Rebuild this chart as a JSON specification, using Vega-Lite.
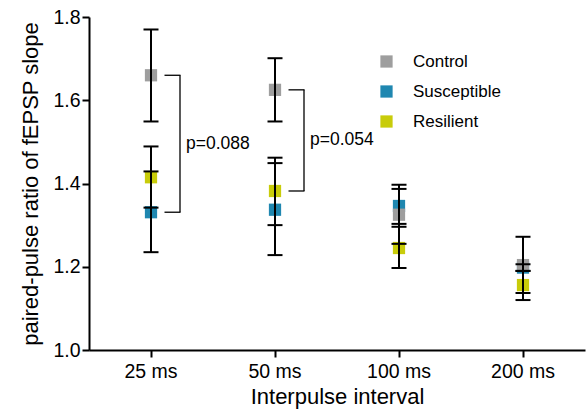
{
  "$schema": "https://vega.github.io/schema/vega-lite/v6.json",
  "autosize": "none",
  "width": 496,
  "height": 333,
  "padding": {"left": 89, "top": 17, "right": 1, "bottom": 62},
  "background": "white",
  "config": {
    "font": "Liberation Sans",
    "view": {"stroke": null},
    "axis": {
      "domainColor": "black",
      "domainWidth": 2,
      "tickColor": "black",
      "tickWidth": 2,
      "tickSize": 7,
      "labelColor": "black",
      "titleColor": "black",
      "labelFont": "Liberation Sans",
      "titleFont": "Liberation Sans",
      "labelFontSize": 19.5,
      "titleFontSize": 22,
      "titleFontWeight": "normal",
      "grid": false
    }
  },
  "datasets": {
    "ppr": [
      {"interval": "25 ms", "group": "Susceptible", "mean": 1.331, "lo": 1.235, "hi": 1.429},
      {"interval": "50 ms", "group": "Susceptible", "mean": 1.337, "lo": 1.228, "hi": 1.449},
      {"interval": "100 ms", "group": "Susceptible", "mean": 1.346, "lo": 1.303, "hi": 1.387},
      {"interval": "200 ms", "group": "Susceptible", "mean": 1.198, "lo": 1.19, "hi": 1.206},
      {"interval": "25 ms", "group": "Control", "mean": 1.66, "lo": 1.549, "hi": 1.77},
      {"interval": "50 ms", "group": "Control", "mean": 1.625, "lo": 1.549, "hi": 1.701},
      {"interval": "100 ms", "group": "Control", "mean": 1.325, "lo": 1.255, "hi": 1.397},
      {"interval": "200 ms", "group": "Control", "mean": 1.204, "lo": 1.137, "hi": 1.272},
      {"interval": "25 ms", "group": "Resilient", "mean": 1.415, "lo": 1.342, "hi": 1.489},
      {"interval": "50 ms", "group": "Resilient", "mean": 1.382, "lo": 1.3, "hi": 1.462},
      {"interval": "100 ms", "group": "Resilient", "mean": 1.245, "lo": 1.197, "hi": 1.296},
      {"interval": "200 ms", "group": "Resilient", "mean": 1.156, "lo": 1.12, "hi": 1.19}
    ],
    "brackets": [
      {"interval": "25 ms", "top": 1.66, "bottom": 1.331, "label": "p=0.088"},
      {"interval": "50 ms", "top": 1.625, "bottom": 1.382, "label": "p=0.054"}
    ]
  },
  "encoding": {
    "x": {
      "field": "interval",
      "type": "nominal",
      "sort": ["25 ms", "50 ms", "100 ms", "200 ms"],
      "scale": {"domain": ["25 ms", "50 ms", "100 ms", "200 ms"], "paddingInner": 0, "paddingOuter": 0},
      "axis": {"title": "Interpulse interval", "labelAngle": 0, "labelPadding": 5, "titlePadding": 6}
    }
  },
  "layer": [
    {
      "data": {"name": "ppr"},
      "mark": {"type": "point", "shape": "square", "filled": true, "opacity": 1, "size": 150},
      "encoding": {
        "y": {
          "field": "mean",
          "type": "quantitative",
          "scale": {"domain": [1.0, 1.8], "nice": false, "zero": false},
          "axis": {"title": "paired-pulse ratio of fEPSP slope", "values": [1.0, 1.2, 1.4, 1.6, 1.8], "format": ".1f", "labelPadding": 2, "titlePadding": 10}
        },
        "color": {
          "field": "group",
          "type": "nominal",
          "scale": {"domain": ["Control", "Susceptible", "Resilient"], "range": ["#9e9e9e", "#1f87b0", "#c8cc0a"]},
          "legend": {
            "title": null,
            "orient": "none",
            "legendX": 289,
            "legendY": 36,
            "symbolType": "square",
            "symbolSize": 150,
            "symbolStrokeWidth": 0,
            "labelFontSize": 17,
            "labelFont": "Liberation Sans",
            "labelColor": "black",
            "labelOffset": 18,
            "rowPadding": 12
          }
        }
      }
    },
    {
      "data": {"name": "ppr"},
      "mark": {"type": "rule", "color": "black", "strokeWidth": 2},
      "encoding": {
        "y": {"field": "lo", "type": "quantitative"},
        "y2": {"field": "hi"}
      }
    },
    {
      "data": {"name": "ppr"},
      "mark": {"type": "tick", "color": "black", "thickness": 2, "size": 15, "opacity": 1},
      "encoding": {"y": {"field": "lo", "type": "quantitative"}}
    },
    {
      "data": {"name": "ppr"},
      "mark": {"type": "tick", "color": "black", "thickness": 2, "size": 15, "opacity": 1},
      "encoding": {"y": {"field": "hi", "type": "quantitative"}}
    },
    {
      "data": {"name": "brackets"},
      "mark": {"type": "rule", "color": "black", "strokeWidth": 1.3, "xOffset": 29},
      "encoding": {
        "y": {"field": "top", "type": "quantitative"},
        "y2": {"field": "bottom"}
      }
    },
    {
      "data": {"name": "brackets"},
      "mark": {"type": "tick", "color": "black", "thickness": 1.3, "size": 16, "xOffset": 21.5, "opacity": 1},
      "encoding": {"y": {"field": "top", "type": "quantitative"}}
    },
    {
      "data": {"name": "brackets"},
      "mark": {"type": "tick", "color": "black", "thickness": 1.3, "size": 16, "xOffset": 21.5, "opacity": 1},
      "encoding": {"y": {"field": "bottom", "type": "quantitative"}}
    },
    {
      "data": {"name": "brackets"},
      "transform": [{"calculate": "(datum.top + datum.bottom) / 2", "as": "mid"}],
      "mark": {"type": "text", "align": "left", "baseline": "middle", "xOffset": 35, "fontSize": 17.5, "font": "Liberation Sans", "color": "black"},
      "encoding": {
        "y": {"field": "mid", "type": "quantitative"},
        "text": {"field": "label"}
      }
    }
  ]
}
